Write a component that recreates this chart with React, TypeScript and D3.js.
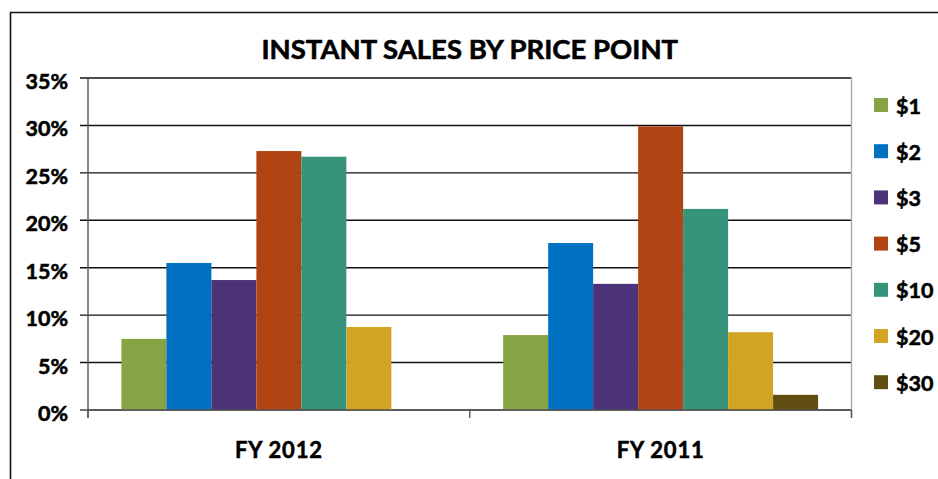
import React from "react";
import * as d3 from "d3";

const title = "INSTANT SALES BY PRICE POINT";
const categories = ["FY 2012", "FY 2011"];
const seriesNames = ["$1", "$2", "$3", "$5", "$10", "$20", "$30"];
const seriesColors = ["#86A443", "#0070C0", "#4B3279", "#B04412", "#37947A", "#D1A423", "#614E12"];
const fy2012 = [7.5, 15.5, 13.7, 27.3, 26.7, 8.75, null];
const fy2011 = [7.9, 17.6, 13.3, 29.9, 21.2, 8.2, 1.6];
const yTicks = [0, 5, 10, 15, 20, 25, 30, 35];

const values = [fy2012, fy2011];

const W = 938;
const H = 479;
const plot = { left: 88, right: 851.5, top: 78, bottom: 410 };
const FONT = "Lato, 'Open Sans', sans-serif";
const boldText = { fontWeight: 700, fill: "#000", stroke: "#000", strokeWidth: 0.55 } as const;

export default function App() {
  const x0 = d3
    .scaleBand<string>()
    .domain(categories)
    .range([plot.left, plot.right])
    .paddingInner(0.175)
    .paddingOuter(0.0875);
  const x1 = d3.scaleBand<string>().domain(seriesNames).range([0, x0.bandwidth()]).padding(0);
  const y = d3.scaleLinear().domain([0, 35]).range([plot.bottom, plot.top]);

  const step = x0.step();
  const boundaries = [plot.left, plot.left + step, plot.right];

  return (
    <svg
      width={W}
      height={H}
      style={{ position: "absolute", left: 0, top: 0, background: "#fff" }}
      fontFamily={FONT}
    >
      <rect x={0} y={0} width={W} height={H} fill="#fff" />
      {/* outer chart border (clipped) */}
      <path d={`M10.5,${H + 5} V12.5 H${W + 5}`} fill="none" stroke="#111" strokeWidth={1.6} />

      <text
        x={(plot.left + plot.right) / 2}
        y={59}
        textAnchor="middle"
        fontSize={27.5}
        {...boldText}
        strokeWidth={0.6}
      >
        {title}
      </text>

      {/* gridlines & y ticks */}
      {yTicks.map((t) => (
        <g key={t}>
          <line
            x1={80}
            x2={plot.right}
            y1={y(t)}
            y2={y(t)}
            stroke={t === 0 ? "#444" : "#111"}
            strokeWidth={1.4}
          />
          <text x={68} y={y(t) + 11} textAnchor="end" fontSize={21.5} {...boldText}>
            {t}%
          </text>
        </g>
      ))}

      {/* bars */}
      {categories.map((c, ci) => (
        <g key={c} transform={`translate(${x0(c)},0)`}>
          {seriesNames.map((s, si) => {
            const v = values[ci][si];
            if (v == null) return null;
            return (
              <rect
                key={s}
                x={x1(s)}
                y={y(v)}
                width={x1.bandwidth()}
                height={y(0) - y(v)}
                fill={seriesColors[si]}
              />
            );
          })}
        </g>
      ))}

      {/* axes */}
      <line x1={plot.left} x2={plot.left} y1={plot.top} y2={418} stroke="#555" strokeWidth={1.4} />
      <line x1={plot.right} x2={plot.right} y1={plot.top} y2={418} stroke="#aaa" strokeWidth={1.4} />
      <line x1={plot.left} x2={plot.right} y1={plot.bottom} y2={plot.bottom} stroke="#555" strokeWidth={1.4} />
      {boundaries.map((bx, i) => (
        <line key={i} x1={bx} x2={bx} y1={plot.bottom} y2={418} stroke="#555" strokeWidth={1.4} />
      ))}

      {categories.map((c) => (
        <text
          key={c}
          x={(x0(c) as number) + x0.bandwidth() / 2}
          y={458}
          textAnchor="middle"
          fontSize={22}
          letterSpacing={0.8}
          {...boldText}
        >
          {c}
        </text>
      ))}

      {/* legend */}
      {seriesNames.map((s, i) => (
        <g key={s} transform={`translate(874,${98 + i * 46.2})`}>
          <rect x={0} y={0} width={14} height={14} fill={seriesColors[i]} />
          <text x={22} y={15.5} fontSize={21.5} {...boldText}>
            {s}
          </text>
        </g>
      ))}
    </svg>
  );
}
